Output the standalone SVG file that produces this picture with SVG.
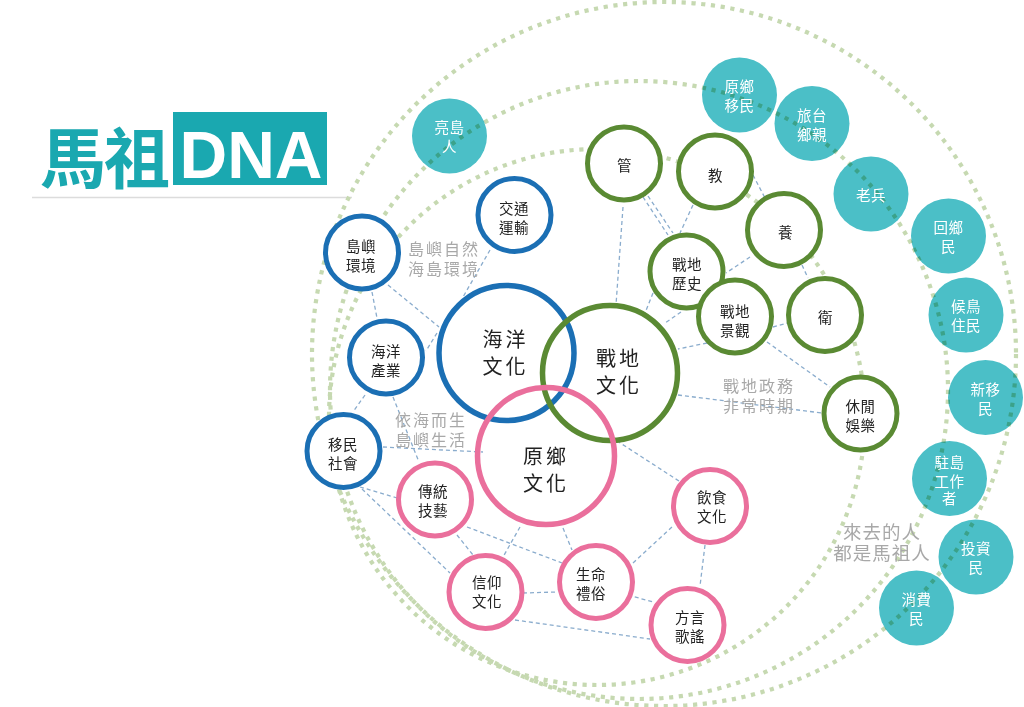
<svg xmlns="http://www.w3.org/2000/svg" width="1024" height="707" viewBox="0 0 1024 707">
<style>
text{font-family:"Noto Sans CJK TC","Noto Sans CJK SC",sans-serif;text-anchor:middle;dominant-baseline:central}
.ring{fill:none;stroke:#c6d9b1;stroke-width:4.2;stroke-dasharray:4.2 5.6}
.teal circle{fill:#4bbfc7;mix-blend-mode:multiply}
.teal text{fill:#fff;font-size:14.5px;letter-spacing:0.5px}
.blue circle{fill:#fff;stroke:#1b6fb4;stroke-width:5}
.green circle{fill:#fff;stroke:#5a8a33;stroke-width:5}
.pink circle{fill:#fff;stroke:#ea6f9c;stroke-width:5}
.big circle{fill:none;stroke-width:5.5}
.n text{fill:#222;font-size:14.5px;letter-spacing:0.5px}
.big text{font-size:20px;letter-spacing:3px}
.lbl{fill:#a8a8a8;font-size:16px;letter-spacing:2px}
.lbl2{fill:#a8a8a8;font-size:18.5px;letter-spacing:1px}
#connectors line{stroke:#8aaccd;stroke-width:1.3;stroke-dasharray:4 3}
</style>

<g id="title">
<text x="104" y="154" style="font-size:66px;font-weight:700;fill:#1aa8b0;letter-spacing:-2px">馬祖</text>
<rect x="173" y="112" width="154" height="73" fill="#1aa8b0"/>
<text x="251" y="178" style="font-family:'Liberation Sans',Arial,sans-serif;font-size:66px;font-weight:700;fill:#fff;dominant-baseline:alphabetic">DNA</text>
<line x1="32" y1="197.5" x2="352" y2="197.5" stroke="#dcdcdc" stroke-width="1.5"/>
</g>

<g id="rings">
<circle class="ring" cx="664" cy="354" r="352"/>
<circle class="ring" cx="639" cy="390" r="309"/>
<circle class="ring" cx="597" cy="417" r="268"/>
</g>

<g id="connectors">
<line x1="388" y1="285" x2="439" y2="327"/>
<line x1="372" y1="292" x2="377" y2="318"/>
<line x1="490" y1="250" x2="463" y2="297"/>
<line x1="437" y1="333" x2="426" y2="351"/>
<line x1="365" y1="395" x2="353" y2="412"/>
<line x1="393" y1="397" x2="419" y2="462"/>
<line x1="383" y1="447" x2="483" y2="452"/>
<line x1="360" y1="487" x2="397" y2="498"/>
<line x1="362" y1="489" x2="450" y2="573"/>
<line x1="457" y1="535" x2="473" y2="555"/>
<line x1="467" y1="527" x2="562" y2="563"/>
<line x1="520" y1="527" x2="503" y2="557"/>
<line x1="563" y1="528" x2="572" y2="550"/>
<line x1="611" y1="437" x2="682" y2="483"/>
<line x1="633" y1="563" x2="672" y2="527"/>
<line x1="705" y1="545" x2="700" y2="586"/>
<line x1="523" y1="593" x2="557" y2="592"/>
<line x1="628" y1="595" x2="653" y2="602"/>
<line x1="515" y1="620" x2="650" y2="639"/>
<line x1="623" y1="207" x2="616" y2="305"/>
<line x1="643" y1="197" x2="668" y2="235"/>
<line x1="648" y1="196" x2="673" y2="233"/>
<line x1="693" y1="205" x2="680" y2="233"/>
<line x1="753" y1="175" x2="765" y2="198"/>
<line x1="750" y1="257" x2="726" y2="273"/>
<line x1="802" y1="265" x2="808" y2="278"/>
<line x1="653" y1="293" x2="643" y2="318"/>
<line x1="681" y1="312" x2="665" y2="323"/>
<line x1="707" y1="343" x2="678" y2="349"/>
<line x1="773" y1="327" x2="788" y2="323"/>
<line x1="767" y1="342" x2="830" y2="387"/>
<line x1="678" y1="395" x2="822" y2="413"/>
</g>

<g id="teal-liangdao" class="teal"><circle cx="449.5" cy="136" r="37.5"/><text x="449.5" y="126.5">亮島<tspan x="449.5" dy="18.5">人</tspan></text></g>
<g id="teal-yuanxiang" class="teal"><circle cx="739.5" cy="95" r="37.5"/><text x="739.5" y="85.5">原鄉<tspan x="739.5" dy="18.5">移民</tspan></text></g>
<g id="teal-lutai" class="teal"><circle cx="812" cy="123.5" r="37.5"/><text x="812" y="114">旅台<tspan x="812" dy="18.5">鄉親</tspan></text></g>
<g id="teal-laobing" class="teal"><circle cx="871" cy="194" r="37.5"/><text x="871" y="194">老兵</text></g>
<g id="teal-huixiang" class="teal"><circle cx="948.5" cy="236" r="37.5"/><text x="948.5" y="226.5">回鄉<tspan x="948.5" dy="18.5">民</tspan></text></g>
<g id="teal-houniao" class="teal"><circle cx="966" cy="315" r="37.5"/><text x="966" y="305.5">候鳥<tspan x="966" dy="18.5">住民</tspan></text></g>
<g id="teal-xinyimin" class="teal"><circle cx="985.5" cy="397.5" r="37.5"/><text x="985.5" y="388">新移<tspan x="985.5" dy="18.5">民</tspan></text></g>
<g id="teal-zhudao" class="teal"><circle cx="949.5" cy="478.5" r="37.5"/><text x="949.5" y="461.5">駐島<tspan x="949.5" dy="18">工作</tspan><tspan x="949.5" dy="17.5">者</tspan></text></g>
<g id="teal-touzi" class="teal"><circle cx="976" cy="557" r="37.5"/><text x="976" y="547.5">投資<tspan x="976" dy="18.5">民</tspan></text></g>
<g id="teal-xiaofei" class="teal"><circle cx="916.5" cy="608" r="37.5"/><text x="916.5" y="598.5">消費<tspan x="916.5" dy="18.5">民</tspan></text></g>

<g id="n-daoyu" class="n blue"><circle cx="362" cy="252.5" r="36.5"/><text x="361" y="245">島嶼<tspan x="361" dy="18.5">環境</tspan></text></g>
<g id="n-jiaotong" class="n blue"><circle cx="514.5" cy="215" r="36.5"/><text x="514" y="207">交通<tspan x="514" dy="18.5">運輸</tspan></text></g>
<g id="n-haiyangchanye" class="n blue"><circle cx="386" cy="357.5" r="36.5"/><text x="386" y="350.5">海洋<tspan x="386" dy="18.5">產業</tspan></text></g>
<g id="n-yimin" class="n blue"><circle cx="343.5" cy="451" r="36.5"/><text x="343" y="443">移民<tspan x="343" dy="18.5">社會</tspan></text></g>

<g id="n-guan" class="n green"><circle cx="624" cy="163.5" r="36.5"/><text x="624.5" y="164">管</text></g>
<g id="n-jiao" class="n green"><circle cx="715" cy="171.5" r="36.5"/><text x="715.5" y="174">教</text></g>
<g id="n-yang" class="n green"><circle cx="784" cy="230" r="36.5"/><text x="785.5" y="231.5">養</text></g>
<g id="n-lishi" class="n green"><circle cx="686.5" cy="271.5" r="36.5"/><text x="687" y="263.5">戰地<tspan x="687" dy="18.5">歷史</tspan></text></g>
<g id="n-jingguan" class="n green"><circle cx="735" cy="316.5" r="36.5"/><text x="735" y="310">戰地<tspan x="735" dy="18.5">景觀</tspan></text></g>
<g id="n-wei" class="n green"><circle cx="825" cy="315" r="36.5"/><text x="825.5" y="316.5">衛</text></g>
<g id="n-xiuxian" class="n green"><circle cx="860.5" cy="413.5" r="36.5"/><text x="860.5" y="405">休閒<tspan x="860.5" dy="18.5">娛樂</tspan></text></g>

<g id="n-chuantong" class="n pink"><circle cx="435" cy="499.5" r="36.5"/><text x="433" y="490.5">傳統<tspan x="433" dy="18.5">技藝</tspan></text></g>
<g id="n-yinshi" class="n pink"><circle cx="710" cy="506" r="36.5"/><text x="712" y="496">飲食<tspan x="712" dy="18.5">文化</tspan></text></g>
<g id="n-xinyang" class="n pink"><circle cx="485.5" cy="592" r="36.5"/><text x="487" y="581">信仰<tspan x="487" dy="18.5">文化</tspan></text></g>
<g id="n-shengming" class="n pink"><circle cx="596" cy="582" r="36.5"/><text x="591" y="573">生命<tspan x="591" dy="18.5">禮俗</tspan></text></g>
<g id="n-fangyan" class="n pink"><circle cx="687.5" cy="625" r="36.5"/><text x="690" y="616">方言<tspan x="690" dy="18.5">歌謠</tspan></text></g>

<g id="big-haiyang" class="n big blue"><circle cx="506.5" cy="353" r="67.5"/><text x="505.5" y="338">海洋<tspan x="505.5" dy="27">文化</tspan></text></g>
<g id="big-zhandi" class="n big green"><circle cx="610" cy="373" r="67.5"/><text x="619" y="357">戰地<tspan x="619" dy="26.5">文化</tspan></text></g>
<g id="big-yuanxiang" class="n big pink"><circle cx="546" cy="456" r="68.5"/><text x="546" y="455">原鄉<tspan x="546" dy="27">文化</tspan></text></g>

<g id="labels">
<text class="lbl" x="444" y="248">島嶼自然<tspan x="444" dy="20">海島環境</tspan></text>
<text class="lbl" x="431" y="418.5">依海而生<tspan x="431" dy="20">島嶼生活</tspan></text>
<text class="lbl" x="759" y="384.5">戰地政務<tspan x="759" dy="20">非常時期</tspan></text>
<text class="lbl2" x="882" y="531">來去的人<tspan x="882" dy="21">都是馬祖人</tspan></text>
</g>
</svg>
